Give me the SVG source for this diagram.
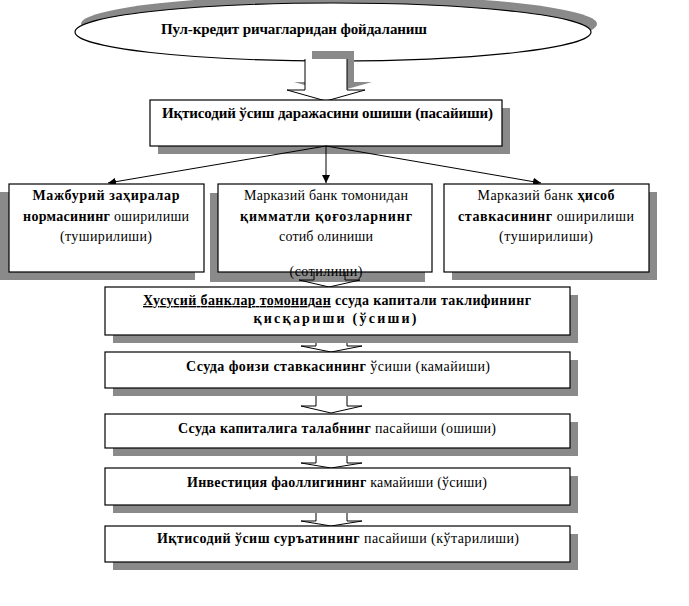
<svg xmlns="http://www.w3.org/2000/svg" width="689" height="606" viewBox="0 0 689 606">
<defs>
<style>
.bx{fill:#fff;stroke:#000;stroke-width:1.2}
.sh{fill:#8a8a8a}
.t{font-family:"Liberation Serif","Times New Roman",serif;font-size:14px;fill:#000}
.tb{font-family:"Liberation Serif","Times New Roman",serif;font-size:15px;font-weight:bold;fill:#000}
.b{font-weight:bold}
.ln{stroke:#000;stroke-width:1;fill:none}
</style>
<marker id="ah" viewBox="0 0 10 10" refX="10" refY="5" markerWidth="8" markerHeight="8" markerUnits="userSpaceOnUse" orient="auto">
<path d="M0,0 L10,5 L0,10 z" fill="#000"/>
</marker>
</defs>
<rect width="689" height="606" fill="#fff"/>

<g id="start">
<ellipse cx="339" cy="24" rx="258" ry="29" class="sh"/>
<ellipse cx="333" cy="32" rx="258" ry="29" class="bx"/>
<polygon points="312,51 354,51 354,82 372,82 333,93 294,82 312,82" class="sh"/>
<polygon points="305,59 347,59 347,90 365,90 326,101 287,90 305,90" fill="#fff"/>
<polyline points="305,59 305,90 287,90 326,101 365,90 347,90 347,59" class="ln"/>
<text x="161" y="34" class="tb" textLength="266" lengthAdjust="spacing">Пул-кредит ричагларидан фойдаланиш</text>
</g>

<g id="growth-level">
<rect x="158" y="108" width="352" height="46" class="sh"/>
<rect x="150" y="100" width="352" height="46" class="bx"/>
<text x="162" y="118" class="tb" textLength="331" lengthAdjust="spacing">Иқтисодий ўсиш даражасини ошиши (пасайиши)</text>
</g>

<g id="connectors">
<line x1="326" y1="146" x2="108" y2="183" class="ln" marker-end="url(#ah)"/>
<line x1="326" y1="146" x2="326" y2="183" class="ln" marker-end="url(#ah)"/>
<line x1="326" y1="146" x2="541" y2="183" class="ln" marker-end="url(#ah)"/>
</g>

<g id="reserve">
<rect x="-1" y="192" width="196" height="88" class="sh"/>
<rect x="9" y="184" width="195" height="88" class="bx"/>
<text x="106" y="200" class="t b" text-anchor="middle" textLength="147" lengthAdjust="spacing">Мажбурий заҳиралар</text>
<text x="106" y="221" class="t" text-anchor="middle" textLength="166" lengthAdjust="spacing"><tspan class="b">нормасининг</tspan> оширилиши</text>
<text x="106" y="241" class="t" text-anchor="middle" textLength="92" lengthAdjust="spacing">(туширилиши)</text>
</g>

<g id="securities">
<rect x="210" y="193" width="215" height="89" class="sh"/>
<rect x="218" y="184" width="214" height="88" class="bx"/>
<text x="326" y="200" class="t" text-anchor="middle" textLength="164" lengthAdjust="spacing">Марказий банк томонидан</text>
<text x="326" y="221" class="t b" text-anchor="middle" textLength="172" lengthAdjust="spacing">қимматли қоғозларнинг</text>
<text x="326" y="241" class="t" text-anchor="middle" textLength="94" lengthAdjust="spacing">сотиб олиниши</text>
</g>

<g id="discount">
<rect x="452" y="192" width="205" height="88" class="sh"/>
<rect x="444" y="184" width="205" height="88" class="bx"/>
<text x="546" y="200" class="t" text-anchor="middle" textLength="137" lengthAdjust="spacing">Марказий банк <tspan class="b">ҳисоб</tspan></text>
<text x="546" y="221" class="t" text-anchor="middle" textLength="176" lengthAdjust="spacing"><tspan class="b">ставкасининг</tspan> оширилиши</text>
<text x="546" y="241" class="t" text-anchor="middle" textLength="94" lengthAdjust="spacing">(туширилиши)</text>
</g>

<g id="arrows-small">
<polyline points="314,272 314,280 299,280 329,287 360,280 345,280 345,272" class="ln"/>
<polyline points="316,335 316,346 301,346 331,352 362,346 347,346 347,335" class="ln"/>
<polyline points="316,388 316,406 301,406 331,413 362,406 347,406 347,388" class="ln"/>
<polyline points="316,447 316,463 301,463 331,468 362,463 347,463 347,447" class="ln"/>
<polyline points="316,505 316,521 301,521 331,526 362,521 347,521 347,505" class="ln"/>
</g>

<g id="sold-label">
<text x="326" y="276" class="t" text-anchor="middle" textLength="73" lengthAdjust="spacing">(сотилиши)</text>
</g>

<g id="supply">
<rect x="113" y="295" width="465" height="48" class="sh"/>
<rect x="105" y="287" width="465" height="48" class="bx"/>
<text x="337" y="305" class="t b" text-anchor="middle" textLength="388" lengthAdjust="spacing"><tspan text-decoration="underline">Хусусий банклар томонидан</tspan> ссуда капитали таклифининг</text>
<text x="335" y="323" class="t b" text-anchor="middle" textLength="163" lengthAdjust="spacing">қисқариши (ўсиши)</text>
</g>

<g id="rate">
<rect x="113" y="360" width="465" height="36" class="sh"/>
<rect x="105" y="352" width="465" height="36" class="bx"/>
<text x="338" y="371" class="t" text-anchor="middle" textLength="304" lengthAdjust="spacing"><tspan class="b">Ссуда фоизи ставкасининг</tspan> ўсиши (камайиши)</text>
</g>

<g id="demand">
<rect x="113" y="422" width="465" height="34" class="sh"/>
<rect x="105" y="414" width="465" height="34" class="bx"/>
<text x="337" y="433" class="t" text-anchor="middle" textLength="318" lengthAdjust="spacing"><tspan class="b">Ссуда капиталига талабнинг</tspan> пасайиши (ошиши)</text>
</g>

<g id="investment">
<rect x="113" y="476" width="465" height="37" class="sh"/>
<rect x="105" y="468" width="465" height="37" class="bx"/>
<text x="337" y="487" class="t" text-anchor="middle" textLength="300" lengthAdjust="spacing"><tspan class="b">Инвестиция фаоллигининг</tspan> камайиши (ўсиши)</text>
</g>

<g id="growth-rate">
<rect x="113" y="534" width="465" height="36" class="sh"/>
<rect x="105" y="526" width="465" height="36" class="bx"/>
<text x="338" y="543" class="t" text-anchor="middle" textLength="362" lengthAdjust="spacing"><tspan class="b">Иқтисодий ўсиш суръатининг</tspan> пасайиши (кўтарилиши)</text>
</g>
</svg>
